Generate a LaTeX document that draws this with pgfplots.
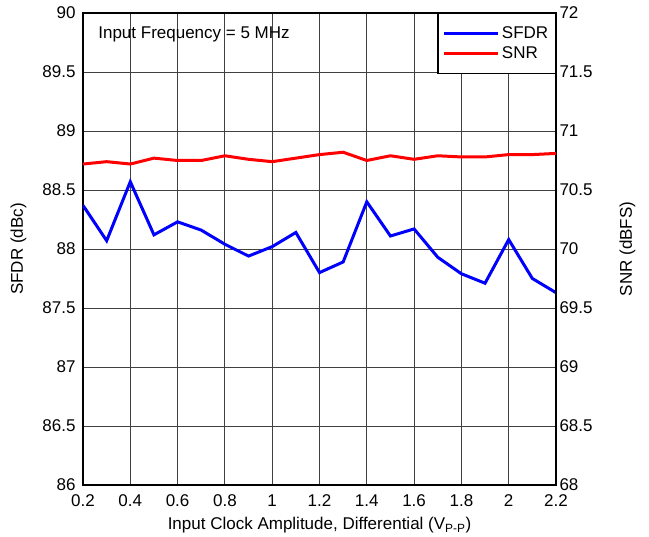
\documentclass[border=0pt]{standalone}
\usepackage{pgfplots}
\pgfplotsset{compat=1.18}
\usepackage{fontspec}
\setmainfont{Liberation Sans}

\newcommand{\chartfont}{\fontsize{17}{19.5}\selectfont}

\pgfplotstableread{
x    sfdr
0.2  88.37
0.3  88.07
0.4  88.57
0.5  88.12
0.6  88.23
0.7  88.16
0.8  88.04
0.9  87.94
1.0  88.02
1.1  88.14
1.2  87.80
1.3  87.89
1.4  88.40
1.5  88.11
1.6  88.17
1.7  87.93
1.8  87.79
1.9  87.71
2.0  88.08
2.1  87.75
2.2  87.63
}\sfdrdata

\pgfplotstableread{
x    snr
0.2  70.72
0.3  70.74
0.4  70.72
0.5  70.77
0.6  70.75
0.7  70.75
0.8  70.79
0.9  70.76
1.0  70.74
1.1  70.77
1.2  70.80
1.3  70.82
1.4  70.75
1.5  70.79
1.6  70.76
1.7  70.79
1.8  70.78
1.9  70.78
2.0  70.80
2.1  70.80
2.2  70.81
}\snrdata

\pgfplotsset{
  common/.style={
    scale only axis,
    width=473pt, height=472pt,
    xmin=0.2, xmax=2.2,
    xtick={0.2,0.4,...,2.2},
    major tick length=0pt,
    tick label style={font=\chartfont},
    label style={font=\chartfont},
    /pgf/number format/assume math mode=true,
    /pgf/number format/fixed,
    axis line style={line width=2pt},
  },
}

\begin{document}
\begin{tikzpicture}
\path[use as bounding box] (-83pt,-52pt) rectangle (566pt,485pt);

\begin{axis}[
  common,
  ymin=86, ymax=90,
  ytick={86,86.5,...,90},
  grid=major,
  grid style={black!75, line width=0.8pt},
  xlabel={Input Clock Amplitude, Differential (V\textsubscript{P-P})},
  ylabel={SFDR (dBc)},
  xticklabel style={yshift=-6pt},
  xlabel style={yshift=-4pt},
  yticklabel style={xshift=-4pt},
  ylabel style={xshift=0pt, yshift=9pt},
]
\addplot[blue, line width=3pt] table[x=x, y=sfdr] {\sfdrdata};
\node[anchor=west, font=\chartfont] at (rel axis cs:0.025,0.955) {Input Frequency = 5 MHz};
\end{axis}

\begin{axis}[
  common,
  ymin=68, ymax=72,
  ytick={68,68.5,...,72},
  axis y line*=right,
  axis x line=none,
  ylabel={SNR (dBFS)},
  ylabel style={yshift=-20pt},
  legend style={
    at={(1,1)}, anchor=north east,
    draw=black, line width=1.5pt,
    font=\chartfont,
    legend cell align=left,
    row sep=3pt,
    inner xsep=5pt, inner ysep=11pt,
  },
  legend image code/.code={\draw[#1] (0pt,0pt) -- (35pt,0pt); \path (-9pt,0pt) -- (45pt,0pt);},
]
\addlegendimage{blue, line width=3pt}
\addlegendentry{SFDR}
\addplot[red, line width=3pt] table[x=x, y=snr] {\snrdata};
\addlegendentry{SNR}
\end{axis}
\end{tikzpicture}
\end{document}
